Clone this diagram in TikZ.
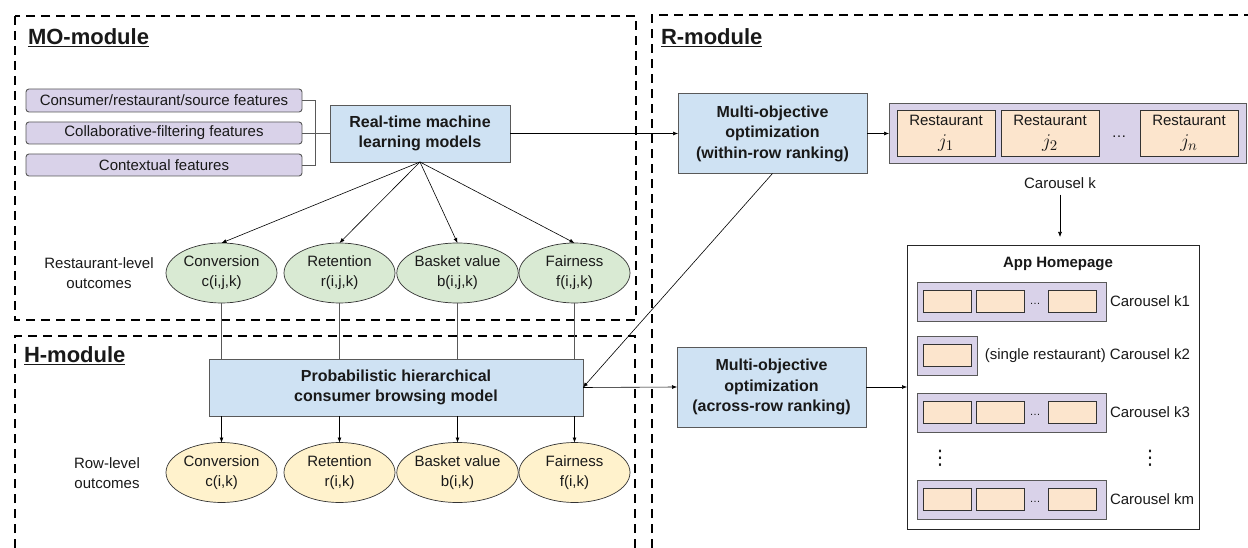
\documentclass[tikz,border=0pt]{standalone}
\usepackage{fontspec}
\setmainfont{Liberation Sans}
\newfontfamily\dvsans{DejaVu Sans}
\usetikzlibrary{arrows.meta,shapes.geometric}
\definecolor{blueF}{HTML}{CFE2F3}
\definecolor{purpF}{HTML}{D9D2E9}
\definecolor{orF}{HTML}{FCE5CD}
\definecolor{grF}{HTML}{D9EAD3}
\definecolor{yeF}{HTML}{FFF2CC}
\definecolor{edgeC}{HTML}{595959}
\newcommand{\jlab}[1]{\scalebox{1.35}{$j_{#1}$}}
\begin{document}
\begin{tikzpicture}[x=1pt,y=-1pt,
  every node/.style={inner sep=0pt, outer sep=0pt, align=center, text=black!90,
    font=\fontsize{15}{20}\selectfont},
  modbox/.style={draw=black, line width=2pt, dash pattern=on 9pt off 6pt},
  modtitle/.style={anchor=west, font=\bfseries\fontsize{22}{24}\selectfont},
  bluebox/.style={draw=edgeC, fill=blueF, line width=0.9pt,
    font=\bfseries\fontsize{16}{20.5}\selectfont},
  featbox/.style={draw=edgeC, fill=purpF, rounded corners=3pt, line width=0.9pt,
    minimum width=276pt},
  oval/.style={ellipse, draw=black!80, line width=0.7pt, minimum width=111pt, minimum height=60pt},
  strip/.style={draw=edgeC, fill=purpF, line width=0.9pt},
  rbox/.style={draw=black!80, fill=orF, line width=0.9pt},
  conn/.style={draw=edgeC, line width=0.9pt},
  arr/.style={-{Latex[length=5pt,width=4pt]}, line width=0.6pt, draw=black},
  vdot/.style={font=\dvsans\fontsize{20}{20}\selectfont},
]
\useasboundingbox (0,0) rectangle (1248,548);

% module frames
\draw[modbox] (15,16) rectangle (636,320);
\draw[modbox] (15,548) -- (15,336) -- (635,336) -- (635,548);
\draw[modbox] (652,548) -- (652,15) -- (1248,15);

\node[modtitle] (motitle) at (28,38) {\underline{MO-module}};
\node[modtitle] (htitle) at (24,356) {\underline{H-module}};
\node[modtitle] (rtitle) at (661,38) {\underline{R-module}};

% features
\node[featbox, minimum height=23pt] (f1) at (164,100.5) {Consumer/restaurant/source features};
\node[featbox, minimum height=22pt] (f2) at (164,133) {Collaborative-filtering features};
\node[featbox, minimum height=22pt] (f3) at (164,165) {Contextual features};

\node[bluebox, minimum width=180pt, minimum height=57pt] (rtml) at (420,133.5) {Real-time machine\\learning models};

% outcomes (restaurant level)
\node[oval, fill=grF] (e1) at (221.5,273) {Conversion\\c(i,j,k)};
\node[oval, fill=grF] (e2) at (339.5,273) {Retention\\r(i,j,k)};
\node[oval, fill=grF] (e3) at (457.5,273) {Basket value\\b(i,j,k)};
\node[oval, fill=grF] (e4) at (574.5,273) {Fairness\\f(i,j,k)};
\node (rlab) at (99,273) {Restaurant-level\\outcomes};

\node[bluebox, minimum width=374pt, minimum height=57pt] (phcb) at (396,387.5) {Probabilistic hierarchical\\consumer browsing model};

% outcomes (row level)
\node[oval, fill=yeF] (l1) at (221.5,472.5) {Conversion\\c(i,k)};
\node[oval, fill=yeF] (l2) at (339.5,472.5) {Retention\\r(i,k)};
\node[oval, fill=yeF] (l3) at (457.5,472.5) {Basket value\\b(i,k)};
\node[oval, fill=yeF] (l4) at (574.5,472.5) {Fairness\\f(i,k)};
\node (wlab) at (107,473) {Row-level\\outcomes};

% R-module
\node[bluebox, minimum width=189pt, minimum height=80pt] (moo1) at (772.5,133.5) {Multi-objective\\optimization\\(within-row ranking)};
\node[bluebox, minimum width=189pt, minimum height=80pt] (moo2) at (771.5,387) {Multi-objective\\optimization\\(across-row ranking)};

\node[strip, minimum width=357pt, minimum height=60pt] (car) at (1067.5,133.5) {};
\node[rbox, minimum width=98pt, minimum height=46pt] (j1) at (946,133.5) {Restaurant\\[2pt]\jlab{1}};
\node[rbox, minimum width=98pt, minimum height=46pt] (j2) at (1050,133.5) {Restaurant\\[2pt]\jlab{2}};
\node[rbox, minimum width=98pt, minimum height=46pt] (jn) at (1189,133.5) {Restaurant\\[2pt]\jlab{n}};
\node (jdots) at (1119,137) {\dots};
\node (cark) at (1060,183) {Carousel k};

\node[draw=black!85, line width=0.9pt, minimum width=292pt, minimum height=284pt] (app) at (1053,387) {};
\node[font=\bfseries\fontsize{15}{18}\selectfont] (apptitle) at (1058,264) {App Homepage};

% carousel k1
\node[strip, minimum width=189pt, minimum height=39pt] (s1) at (1011.5,301.5) {};
\node[rbox, minimum width=48pt, minimum height=22pt] (s1a) at (947,301.5) {};
\node[rbox, minimum width=48pt, minimum height=22pt] (s1b) at (1000,301.5) {};
\node[rbox, minimum width=48pt, minimum height=22pt] (s1c) at (1072,301.5) {};
\node[font=\fontsize{11}{12}\selectfont] (s1d) at (1035,304) {\dots};
\node[anchor=west] (s1l) at (1110,301.5) {Carousel k1};
% carousel k2
\node[strip, minimum width=60pt, minimum height=39pt] (s2) at (947,355.5) {};
\node[rbox, minimum width=48pt, minimum height=22pt] (s2a) at (947,355.5) {};
\node[anchor=east] (s2l) at (1190,355.5) {(single restaurant) Carousel k2};
% carousel k3
\node[strip, minimum width=189pt, minimum height=39pt] (s3) at (1011.5,412.5) {};
\node[rbox, minimum width=48pt, minimum height=22pt] (s3a) at (947,412.5) {};
\node[rbox, minimum width=48pt, minimum height=22pt] (s3b) at (1000,412.5) {};
\node[rbox, minimum width=48pt, minimum height=22pt] (s3c) at (1072,412.5) {};
\node[font=\fontsize{11}{12}\selectfont] (s3d) at (1035,415) {\dots};
\node[anchor=west] (s3l) at (1110,412.5) {Carousel k3};
% vertical dots
\node[vdot] (vd1) at (940,458) {⋮};
\node[vdot] (vd2) at (1150,458) {⋮};
% carousel km
\node[strip, minimum width=189pt, minimum height=39pt] (s4) at (1011.5,499.5) {};
\node[rbox, minimum width=48pt, minimum height=22pt] (s4a) at (947,499.5) {};
\node[rbox, minimum width=48pt, minimum height=22pt] (s4b) at (1000,499.5) {};
\node[rbox, minimum width=48pt, minimum height=22pt] (s4c) at (1072,499.5) {};
\node[font=\fontsize{11}{12}\selectfont] (s4d) at (1035,502) {\dots};
\node[anchor=west] (s4l) at (1110,499.5) {Carousel km};

% connectors
\draw[conn] (f1.east) -- ++(13,0) |- (f3.east);
\draw[conn] (f2.east) -- (rtml.west |- f2.east);
\draw[arr] (rtml.east) -- (moo1.west);
\draw[arr] (moo1.east) -- (car.west);
\foreach \e in {e1,e2,e3,e4} \draw[arr] (rtml.south) -- (\e.north);
\foreach \e/\l in {e1/l1,e2/l2,e3/l3,e4/l4} {
  \draw[conn] (\e.south) -- (\e.south |- phcb.north);
  \draw[arr] (\e.south |- phcb.south) -- (\l.north);
}
\draw[arr] (moo1.south) -- (phcb.east);
\draw[arr] (phcb.east) -- (moo2.west);
\draw[arr] (moo2.east) -- (app.west);
\coordinate (apptop) at ([yshift=8pt]app.north -| cark.south);
\draw[arr] ([yshift=-6pt]cark.south) -- (apptop);
\end{tikzpicture}
\end{document}
